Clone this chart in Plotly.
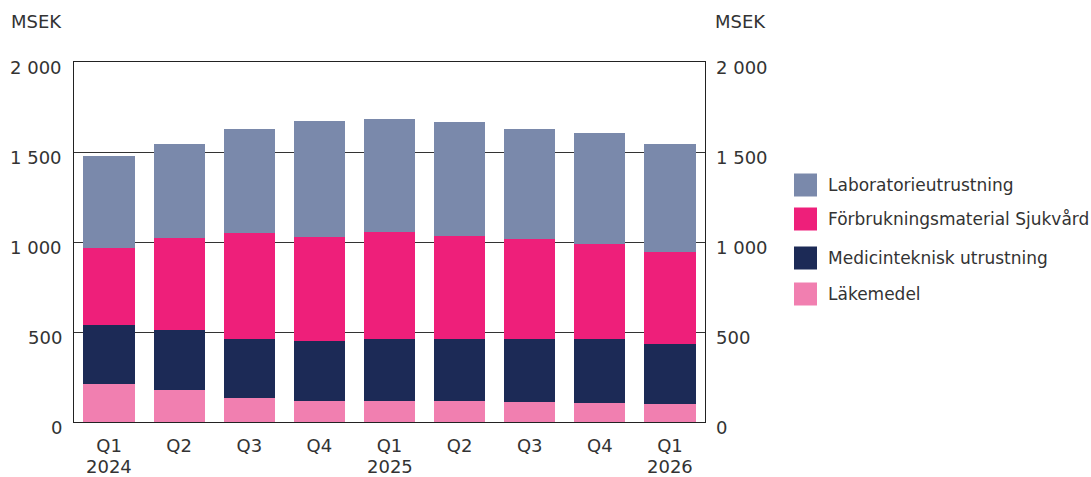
import plotly.graph_objects as go

quarters = ["Q1", "Q2", "Q3", "Q4", "Q1", "Q2", "Q3", "Q4", "Q1"]
years = {0: "2024", 4: "2025", 8: "2026"}
tick_vals_y = [0, 500, 1000, 1500, 2000]
tick_text_y = ["0", "500", "1 000", "1 500", "2 000"]

series_names = ["Läkemedel", "Medicinteknisk utrustning", "Förbrukningsmaterial Sjukvård", "Laboratorieutrustning"]
lakemedel = [209, 176, 132, 115, 115, 115, 109, 104, 98]
medicinteknisk = [328, 333, 327, 333, 344, 344, 350, 355, 333]
forbrukning = [430, 513, 589, 578, 595, 573, 556, 528, 512]
laboratorie = [509, 521, 578, 644, 627, 633, 611, 617, 600]
colors = ["#F17FB0", "#1C2A56", "#EE1F7A", "#7A89AB"]

FONT = "DejaVu Sans"
TXT = "#333333"
L, R, T, B = 74, 705, 62, 422
W, H = 1091, 477
PW, PH = R - L, B - T
FS = 18

x = list(range(len(quarters)))
fig = go.Figure()
for name, vals, col in zip(series_names, [lakemedel, medicinteknisk, forbrukning, laboratorie], colors):
    fig.add_trace(go.Bar(x=x, y=vals, name=name, marker=dict(color=col, line=dict(width=0)),
                         showlegend=False))

fig.update_layout(
    width=W, height=H,
    margin=dict(l=L, r=W - R, t=T, b=H - B, autoexpand=False),
    paper_bgcolor="white", plot_bgcolor="white",
    barmode="stack", bargap=0.27,
    font=dict(family=FONT, color=TXT, size=FS),
    xaxis=dict(range=[-0.5, 8.5], tickvals=x, ticktext=quarters, showgrid=False,
               showline=True, linecolor="#222", linewidth=1, ticks="", mirror=True,
               tickfont=dict(size=FS, color=TXT), zeroline=False, automargin=False,
               ticklabelstandoff=7),
    yaxis=dict(range=[0, 2000], tickvals=tick_vals_y, showticklabels=False,
               showgrid=True, gridcolor="#333", gridwidth=1, showline=True, mirror=True,
               linecolor="#222", linewidth=1, ticks="", zeroline=False, automargin=False),
)

def px(xp):
    return (xp - L) / PW

def py(yp):
    return (B - yp) / PH

# y tick labels on both sides (slightly below their gridlines, as in the reference)
for v, t in zip(tick_vals_y, tick_text_y):
    fig.add_annotation(xref="paper", yref="y", x=px(64), y=v, text=t, showarrow=False,
                       xanchor="right", yanchor="middle", yshift=-5, font=dict(size=FS, color=TXT))
    fig.add_annotation(xref="paper", yref="y", x=px(714), y=v, text=t, showarrow=False,
                       xanchor="left", yanchor="middle", yshift=-5, font=dict(size=FS, color=TXT))

for i, yr in years.items():
    fig.add_annotation(x=i, y=py(466), xref="x", yref="paper", text=yr, showarrow=False,
                       font=dict(size=FS, color=TXT), yanchor="middle")

fig.add_annotation(x=px(9), y=py(22), xref="paper", yref="paper", text="MSEK", showarrow=False,
                   xanchor="left", yanchor="middle", font=dict(size=FS, color=TXT))
fig.add_annotation(x=px(713), y=py(22), xref="paper", yref="paper", text="MSEK", showarrow=False,
                   xanchor="left", yanchor="middle", font=dict(size=FS, color=TXT))

leg_y = [185, 219, 258, 294]
for k, idx in enumerate([3, 2, 1, 0]):
    yc = leg_y[k]
    fig.add_shape(type="rect", xref="paper", yref="paper",
                  x0=px(794), x1=px(817), y0=py(yc + 11.5), y1=py(yc - 11.5),
                  fillcolor=colors[idx], line=dict(width=0))
    fig.add_annotation(xref="paper", yref="paper", x=px(826), y=py(yc),
                       text=series_names[idx], showarrow=False, xanchor="left", yanchor="middle",
                       font=dict(size=17, color=TXT))

fig.write_html("out.html", config={"displayModeBar": False},
               post_script="document.body.style.margin='0';document.body.style.overflow='hidden';")
